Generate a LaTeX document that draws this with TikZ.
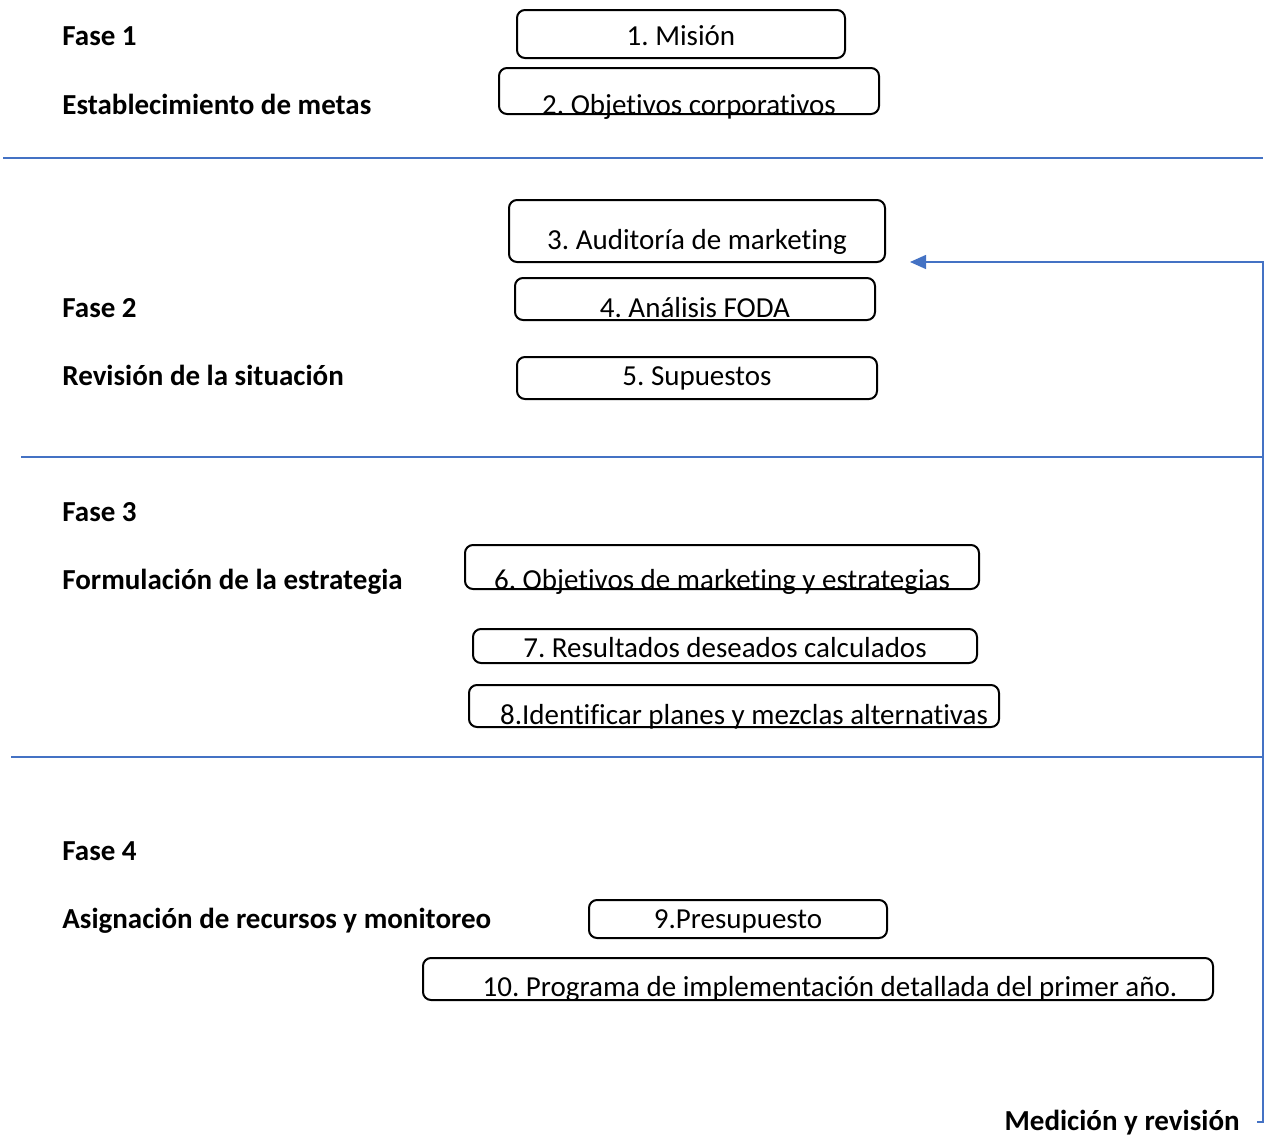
\documentclass[tikz,border=0pt]{standalone}
\usepackage{fontspec}
\setmainfont{Carlito}[Ligatures=NoCommon]
\usetikzlibrary{arrows.meta,positioning}
\definecolor{planBlue}{HTML}{4472C4}
\frenchspacing
\tikzset{
  stage/.style={draw=black,line width=1pt,rounded corners=4pt,inner xsep=0pt,
    inner ysep=0pt,minimum height=0pt,anchor=base,font=\fontsize{14.5}{17}\selectfont},
  phase/.style={anchor=base west,inner sep=0pt,font=\fontsize{14.5}{17}\selectfont\bfseries},
  divider/.style={planBlue,line width=.7pt},
  flow/.style={-{Triangle[length=8pt,width=7pt]},planBlue,line width=.7pt}
}
\begin{document}
\begin{tikzpicture}[x=.5pt,y=-.5pt]
  \useasboundingbox (0,0) rectangle (1264,1135);

  % Fase 1
  \node[phase] (f1) at (62,46) {Fase 1};
  \node[phase] (f1t) at (62,114) {Establecimiento de metas};
  \node[stage,minimum width=164pt,text height=18pt,text depth=6pt] (mision) at (681,46)
       {1. Misión};
  \node[stage,minimum width=190pt,text height=23pt,text depth=0pt] (objcorp) at (689,114)
       {2. Objetivos corporativos};
  \draw[divider] (3,158) -- (1263,158);

  % Fase 2
  \node[phase] (f2) at (62,317) {Fase 2};
  \node[phase] (f2t) at (62,385) {Revisión de la situación};
  \node[stage,minimum width=188pt,text height=24.5pt,text depth=6.5pt] (auditoria) at (697,249)
       {3. Auditoría de marketing};
  \node[stage,minimum width=180pt,text height=19.5pt,text depth=1.5pt] (foda) at (695,317)
       {4. Análisis FODA};
  \node[stage,minimum width=180pt,text height=14pt,text depth=7pt] (supuestos) at (697,385)
       {5. Supuestos};
  \draw[divider] (21,457) -- (1263,457);

  % Fase 3
  \node[phase] (f3) at (62,521) {Fase 3};
  \node[phase] (f3t) at (62,589) {Formulación de la estrategia};
  \node[stage,minimum width=257pt,text height=22pt,text depth=0pt] (objmkt) at (722,589)
       {6. Objetivos de marketing y estrategias};
  \node[stage,minimum width=252pt,text height=14pt,text depth=3pt] (resultados) at (725,657)
       {7. Resultados deseados calculados};
  \node[stage,minimum width=265pt,text height=19.5pt,text depth=1.5pt] (planes) at (734,724)
       {\hspace*{10pt}8.Identificar planes y mezclas alternativas};
  \draw[divider] (11,757) -- (1263,757);

  % Fase 4
  \node[phase] (f4) at (62,860) {Fase 4};
  \node[phase] (f4t) at (62,928) {Asignación de recursos y monitoreo};
  \node[stage,minimum width=149pt,text height=14pt,text depth=5pt] (presupuesto) at (738,928)
       {9.Presupuesto};
  \node[stage,minimum width=395pt,text height=19pt,text depth=2pt] (programa) at (818,996)
       {\hspace*{12pt}10. Programa de implementación detallada del primer año.};

  % retorno
  \node[phase,anchor=base east] (medicion) at (1240,1130) {Medición y revisión};
  \coordinate (loopend) at (910,262);
  \draw[flow] ([xshift=8.5pt]medicion.east) -- ++(6,0) |- (loopend);
\end{tikzpicture}
\end{document}
